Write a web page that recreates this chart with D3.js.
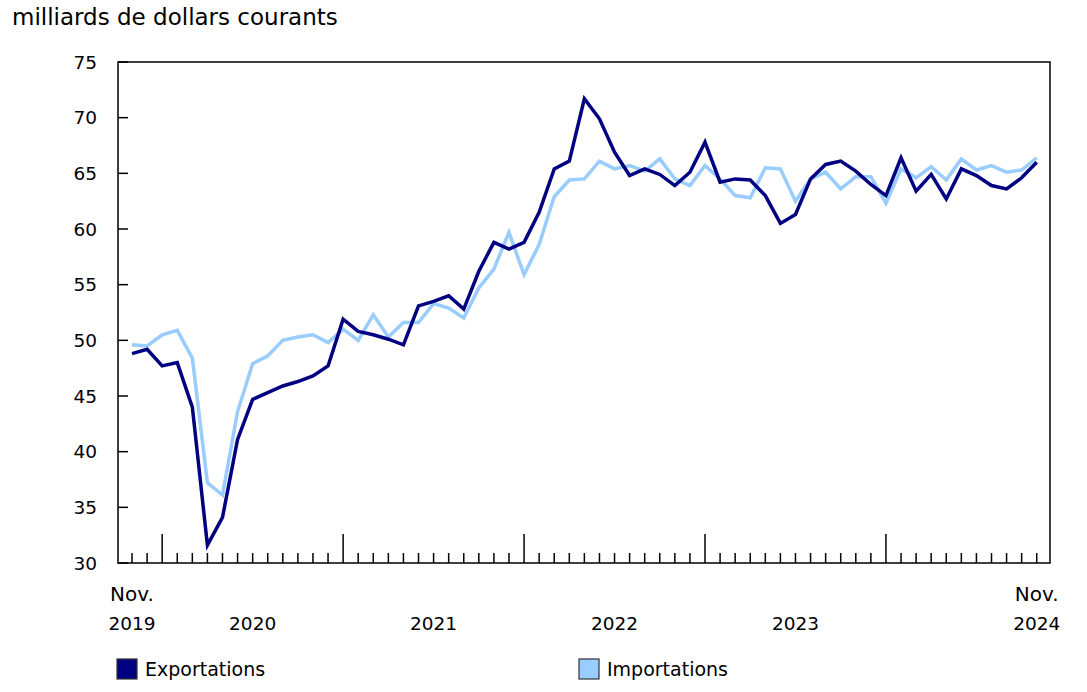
<!DOCTYPE html>
<html>
<head>
<meta charset="utf-8">
<script src="https://cdn.jsdelivr.net/npm/d3@7"></script>
<style>
  body { margin: 0; background: #fff; }
  svg text { font-family: "DejaVu Sans", Verdana, sans-serif; fill: #000; }
</style>
</head>
<body>
<svg id="chart" width="1087" height="692"></svg>
<script>
// monthly values, Nov. 2019 to Nov. 2024 (billions of current dollars)
const exportations = [48.8, 49.2, 47.7, 48.0, 44.0, 31.6, 34.1, 41.1, 44.7, 45.3, 45.9, 46.3, 46.8, 47.7,
  51.9, 50.8, 50.5, 50.1, 49.6, 53.1, 53.5, 54.0, 52.8, 56.2, 58.8, 58.2,
  58.8, 61.5, 65.4, 66.1, 71.7, 69.9, 66.9, 64.8, 65.4, 64.9, 63.9, 65.1,
  67.8, 64.2, 64.5, 64.4, 63.0, 60.5, 61.3, 64.5, 65.8, 66.1, 65.2, 64.0,
  63.0, 66.4, 63.4, 64.9, 62.7, 65.4, 64.8, 63.9, 63.6, 64.6, 66.0];
const importations = [49.6, 49.5, 50.5, 50.9, 48.4, 37.2, 36.1, 43.6, 47.9, 48.6, 50.0, 50.3, 50.5, 49.8,
  51.0, 50.0, 52.3, 50.3, 51.6, 51.6, 53.3, 52.9, 52.0, 54.7, 56.4, 59.7,
  55.9, 58.6, 62.9, 64.4, 64.5, 66.1, 65.4, 65.7, 65.2, 66.3, 64.5, 63.9,
  65.7, 64.5, 63.0, 62.8, 65.5, 65.4, 62.5, 64.5, 65.1, 63.6, 64.7, 64.7,
  62.3, 65.4, 64.6, 65.6, 64.4, 66.3, 65.3, 65.7, 65.1, 65.3, 66.4];
const months = d3.timeMonth.range(new Date(2019, 10, 1), new Date(2024, 11, 1));
const yTicks = [30, 35, 40, 45, 50, 55, 60, 65, 70, 75];
const yearLabels = ["2020", "2021", "2022", "2023"];
const unitLabel = "milliards de dollars courants";
const seriesNames = ["Exportations", "Importations"];
const seriesColors = ["#000080", "#99ccff"];

const svg = d3.select("#chart");
const plotLeft = 118, plotRight = 1050, plotTop = 62, plotBottom = 563;

// month index -> x, with a little padding on both sides of the frame
const x = d3.scaleLinear().domain([-0.93, months.length - 0.12]).range([plotLeft, plotRight]);
const y = d3.scaleLinear().domain([30, 75]).range([plotBottom, plotTop]);

svg.append("text")
  .attr("x", 12).attr("y", 25)
  .style("font-size", "23px")
  .text(unitLabel);

// y ticks pointing inward + labels
svg.append("g").selectAll("line")
  .data(yTicks).enter().append("line")
  .attr("x1", plotLeft).attr("x2", plotLeft + 10)
  .attr("y1", d => y(d)).attr("y2", d => y(d))
  .attr("stroke", "#000").attr("stroke-width", 1.5);
svg.append("g").selectAll("text")
  .data(yTicks).enter().append("text")
  .attr("x", 97).attr("y", d => y(d) + 6.5)
  .attr("text-anchor", "end")
  .style("font-size", "18.5px")
  .text(d => d);

// monthly ticks on the bottom, longer for January
svg.append("g").selectAll("line")
  .data(months).enter().append("line")
  .attr("x1", (d, i) => x(i)).attr("x2", (d, i) => x(i))
  .attr("y1", plotBottom)
  .attr("y2", d => d.getMonth() == 0 ? plotBottom - 29 : plotBottom - 10)
  .attr("stroke", "#000").attr("stroke-width", 1.5);

// year labels centred between two January ticks
const janIdx = months.map((d, i) => d.getMonth() == 0 ? i : -1).filter(i => i >= 0);
svg.append("g").selectAll("text")
  .data(yearLabels).enter().append("text")
  .attr("x", (d, i) => x(janIdx[i] + 6))
  .attr("y", 630)
  .attr("text-anchor", "middle")
  .style("font-size", "18.5px")
  .text(d => d);

// first and last month labels
const endLabels = [[0, "Nov.", "2019"], [months.length - 1, "Nov.", "2024"]];
endLabels.forEach(([i, m, yr]) => {
  svg.append("text").attr("x", x(i)).attr("y", 601).attr("text-anchor", "middle")
    .style("font-size", "20px").text(m);
  svg.append("text").attr("x", x(i)).attr("y", 630).attr("text-anchor", "middle")
    .style("font-size", "18.5px").text(yr);
});

// lines
const line = d3.line().x((d, i) => x(i)).y(d => y(d));
[importations, exportations].forEach((vals, k) => {
  svg.append("path")
    .datum(vals)
    .attr("fill", "none")
    .attr("stroke", k == 0 ? seriesColors[1] : seriesColors[0])
    .attr("stroke-width", 3.5)
    .attr("stroke-linejoin", "miter")
    .attr("d", line);
});

// frame
svg.append("rect")
  .attr("x", plotLeft).attr("y", plotTop)
  .attr("width", plotRight - plotLeft).attr("height", plotBottom - plotTop)
  .attr("fill", "none").attr("stroke", "#000").attr("stroke-width", 1.5);

// legend
const legendX = [117, 579];
seriesNames.forEach((name, k) => {
  svg.append("rect")
    .attr("x", legendX[k]).attr("y", 659)
    .attr("width", 20).attr("height", 20)
    .attr("fill", seriesColors[k])
    .attr("stroke", "#333").attr("stroke-width", 1.2);
  svg.append("text")
    .attr("x", legendX[k] + 28).attr("y", 676)
    .style("font-size", "19px")
    .text(name);
});
</script>
</body>
</html>
